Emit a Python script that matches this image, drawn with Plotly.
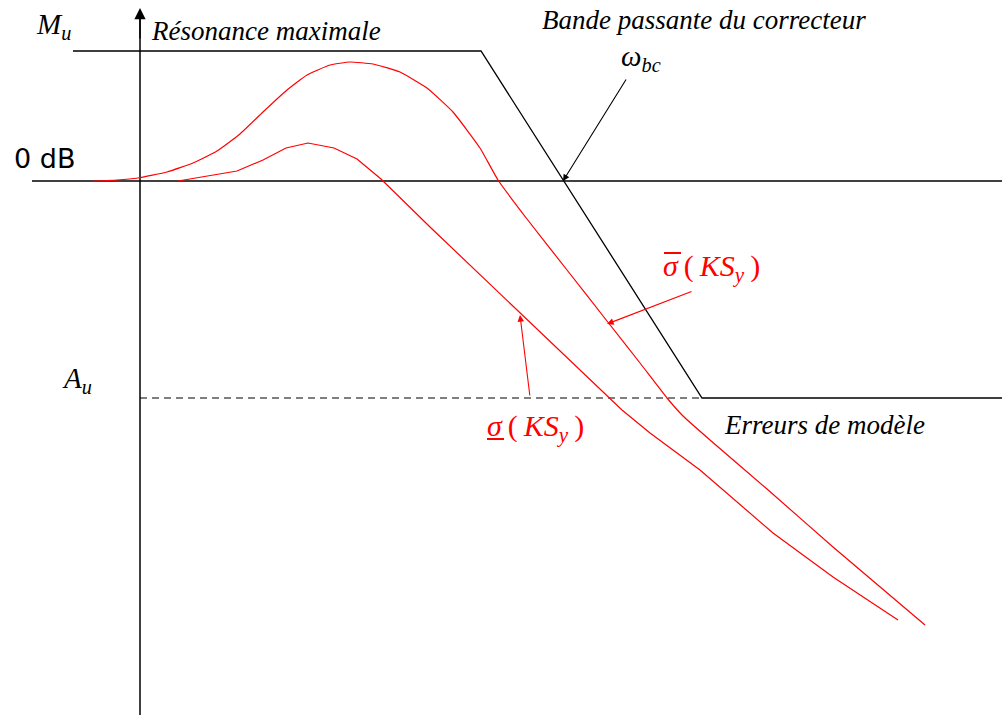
import plotly.graph_objects as go

# Frequency-response sketch drawn in a 1002 x 717 canvas frame
W, H = 1002, 717

# Template (gabarit) lines
zero_db_x = [32, 1002]
zero_db_y = [181, 181]
template_x = [73, 481, 702, 1002]
template_y = [51, 51, 398, 398]
model_err_x = [140, 702]
model_err_y = [398, 398]
axis_x = [140, 140]
axis_y = [715, 12]

# Largest singular value of K*S_y
sig_max_x = [93, 117, 138, 167, 193, 217, 240, 263, 287, 307, 330, 350, 373,
             400, 427, 453, 480, 498, 527, 567, 607, 640, 667, 683, 710, 767,
             833, 925]
sig_max_y = [181, 180, 178, 172, 163, 151, 134, 112, 90, 75, 65, 62, 64,
             72, 88, 112, 148, 180, 219, 270, 321, 363, 398, 416, 440, 489,
             547, 625]

# Smallest singular value of K*S_y
sig_min_x = [178, 237, 263, 286, 308, 334, 357, 381, 430, 520, 610, 622,
             650, 700, 773, 833, 898]
sig_min_y = [181, 171, 160, 148, 143, 148, 159, 179, 227, 313, 398, 410,
             433, 470, 533, 577, 620]

RED = "#ff0000"
BLACK = "#000000"
SERIF = "Liberation Serif"
SANS = "DejaVu Sans"
TS = "\u2009"  # thin space used to open up the math labels

fig = go.Figure()

fig.add_trace(go.Scatter(x=axis_x, y=axis_y, mode="lines",
                         line=dict(color=BLACK, width=1.5)))
fig.add_trace(go.Scatter(x=zero_db_x, y=zero_db_y, mode="lines",
                         line=dict(color=BLACK, width=1.3)))
fig.add_trace(go.Scatter(x=template_x, y=template_y, mode="lines",
                         line=dict(color=BLACK, width=1.3)))
fig.add_trace(go.Scatter(x=model_err_x, y=model_err_y, mode="lines",
                         line=dict(color=BLACK, width=1.1, dash="7px,5px")))
fig.add_trace(go.Scatter(x=sig_max_x, y=sig_max_y, mode="lines",
                         line=dict(color=RED, width=1.2, shape="spline",
                                   smoothing=0.4)))
fig.add_trace(go.Scatter(x=sig_min_x, y=sig_min_y, mode="lines",
                         line=dict(color=RED, width=1.2)))

annotations = []

# Arrow tip of the vertical axis
annotations.append(dict(x=140, y=8, ax=140, ay=40, xref="x", yref="y",
                        axref="x", ayref="y", text="", showarrow=True,
                        arrowhead=2, arrowsize=1.6, arrowwidth=1.4,
                        arrowcolor=BLACK))
# Pointer to the corrector bandwidth
annotations.append(dict(x=563, y=181, ax=627, ay=78, xref="x", yref="y",
                        axref="x", ayref="y", text="", showarrow=True,
                        arrowhead=2, arrowsize=1.2, arrowwidth=1.1,
                        arrowcolor=BLACK))
# Pointers to the singular value curves
annotations.append(dict(x=607, y=324, ax=693, ay=291, xref="x", yref="y",
                        axref="x", ayref="y", text="", showarrow=True,
                        arrowhead=2, arrowsize=1.2, arrowwidth=1.1,
                        arrowcolor=RED))
annotations.append(dict(x=520, y=315, ax=530, ay=397, xref="x", yref="y",
                        axref="x", ayref="y", text="", showarrow=True,
                        arrowhead=2, arrowsize=1.2, arrowwidth=1.1,
                        arrowcolor=RED))


def label(text, x, y, size, color=BLACK, family=SERIF, anchor="center"):
    annotations.append(dict(x=x, y=y, xref="x", yref="y", text=text,
                            showarrow=False, xanchor=anchor, yanchor="middle",
                            font=dict(family=family, size=size, color=color)))


sigma_label = ("<i>σ</i>" + TS + "(" + TS + "<i>KS</i>"
               "<sub><i>y</i></sub>" + TS + ")")

label("<i>M</i><sub><i>u</i></sub>", 53, 26, 29)
label("<i>Résonance maximale</i>", 149, 31, 27, anchor="left")
label("<i>Bande passante du correcteur</i>", 540, 20, 27, anchor="left")
label("<i>ω</i><sub><i>bc</i></sub>", 641, 58, 29)
label("0 dB", 12, 158, 27, family=SANS, anchor="left")
label("<i>A</i><sub><i>u</i></sub>", 77, 380, 29)
label(sigma_label, 661, 268, 30, color=RED, anchor="left")
label(sigma_label, 485, 428, 30, color=RED, anchor="left")
label("<i>Erreurs de modèle</i>", 722, 425, 27, anchor="left")

shapes = [
    # overline marking the largest singular value
    dict(type="line", xref="x", yref="y", x0=664, x1=681, y0=253, y1=253,
         line=dict(color=RED, width=2)),
    # underline marking the smallest singular value
    dict(type="line", xref="x", yref="y", x0=487, x1=504, y0=439, y1=439,
         line=dict(color=RED, width=2)),
]

fig.update_layout(
    width=W, height=H,
    margin=dict(l=0, r=0, t=0, b=0),
    paper_bgcolor="white", plot_bgcolor="white",
    showlegend=False,
    xaxis=dict(range=[0, W], visible=False, fixedrange=True),
    yaxis=dict(range=[H, 0], visible=False, fixedrange=True),
    annotations=annotations,
    shapes=shapes,
)

fig.write_html("out.html")
